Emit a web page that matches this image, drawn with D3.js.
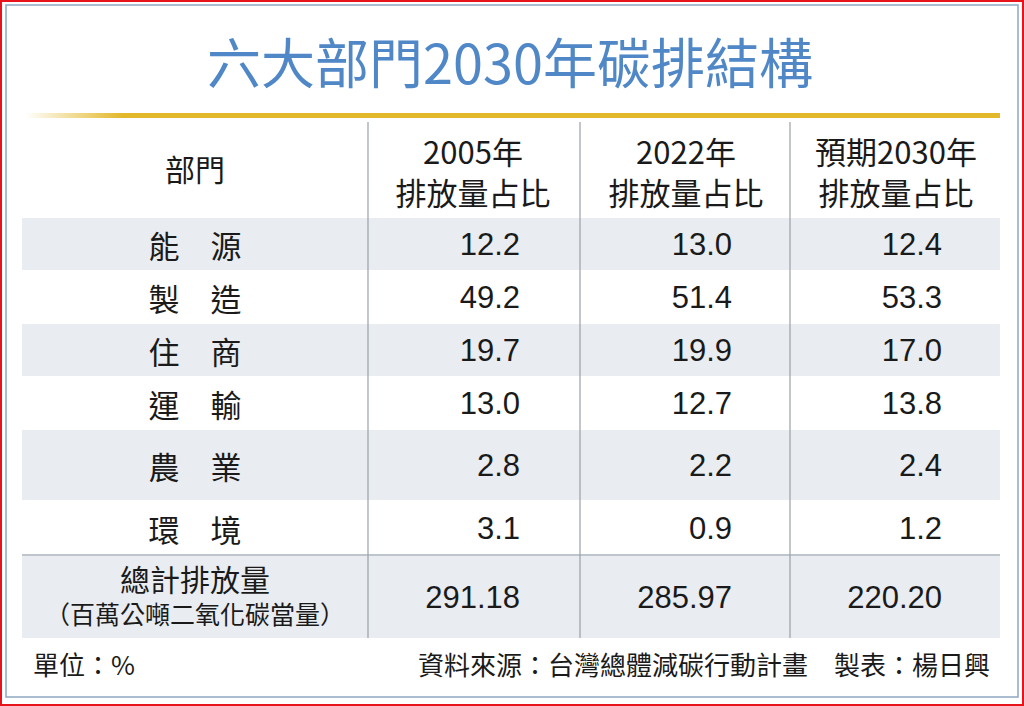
<!DOCTYPE html>
<html>
<head>
<meta charset="utf-8">
<script src="https://cdn.jsdelivr.net/npm/d3@7"></script>
<style>body{margin:0;background:#fff}</style>
</head>
<body>
<script>
const title = "六大部門2030年碳排結構";
const sectors = ["能　源", "製　造", "住　商", "運　輸", "農　業", "環　境"];
const v2005 = [12.2, 49.2, 19.7, 13.0, 2.8, 3.1];
const v2022 = [13.0, 51.4, 19.9, 12.7, 2.2, 0.9];
const v2030 = [12.4, 53.3, 17.0, 13.8, 2.4, 1.2];
const totals = ["291.18", "285.97", "220.20"];
const colHeads = [["2005年", "排放量占比"], ["2022年", "排放量占比"], ["預期2030年", "排放量占比"]];

const font = "'Noto Sans CJK TC', 'Liberation Sans', sans-serif";
const svg = d3.select("body").append("svg").attr("width", 1024).attr("height", 706);

svg.append("rect").attr("x", 1).attr("y", 1).attr("width", 1022).attr("height", 704)
  .attr("fill", "none").attr("stroke", "#e8141c").attr("stroke-width", 2);
svg.append("rect").attr("x", 6).attr("y", 5).attr("width", 1012).attr("height", 692)
  .attr("fill", "none").attr("stroke", "#8fa7c0").attr("stroke-width", 1.5);

svg.append("text").attr("x", 510).attr("y", 84).attr("text-anchor", "middle")
  .attr("font-family", font).attr("font-size", 54).attr("fill", "#4f87c7").text(title);

const grad = svg.append("defs").append("linearGradient").attr("id", "g");
grad.append("stop").attr("offset", "0").attr("stop-color", "#fff");
grad.append("stop").attr("offset", "0.1").attr("stop-color", "#e3b82a");
grad.append("stop").attr("offset", "1").attr("stop-color", "#e3b82a");
svg.append("rect").attr("x", 25).attr("y", 113).attr("width", 975).attr("height", 5).attr("fill", "url(#g)");

// row bands
const rowTop = [218, 272, 324, 378, 430, 502, 556];
const rowBot = [270, 322, 376, 428, 500, 554, 638];
const y = i => (rowTop[i] + rowBot[i]) / 2;
rowTop.forEach((t, i) => {
  if (i % 2 === 0) svg.append("rect").attr("x", 22).attr("y", t).attr("width", 978)
    .attr("height", rowBot[i] - t).attr("fill", "#e9ecf1");
});
svg.append("line").attr("x1", 22).attr("x2", 1000).attr("y1", 555).attr("y2", 555)
  .attr("stroke", "#aab2bc").attr("stroke-width", 1.5);

[368, 580, 790].forEach(vx => svg.append("line").attr("x1", vx).attr("x2", vx)
  .attr("y1", 122).attr("y2", 638).attr("stroke", "#9aa0a8").attr("stroke-width", 1.2));

const txt = (px, py, s, size, anchor) => svg.append("text").attr("x", px).attr("y", py)
  .attr("text-anchor", anchor || "middle").attr("dominant-baseline", "central")
  .attr("font-family", font).attr("font-size", size).attr("fill", "#1a1a1a").text(s);

txt(195, 168, "部門", 30);
colHeads.forEach((h, j) => {
  const cx = [473, 686, 896][j];
  txt(cx, 150, h[0], 31);
  txt(cx, 191, h[1], 31);
});

const numFont = "'Liberation Sans', Arial, sans-serif";
const rightX = [520, 732, 942];
[v2005, v2022, v2030].forEach((col, j) => {
  col.forEach((v, i) => txt(rightX[j], y(i), v.toFixed(1), 31, "end").attr("font-family", numFont));
  txt(rightX[j], y(6), totals[j], 31, "end").attr("font-family", numFont);
});
sectors.forEach((s, i) => txt(195, y(i), s, 31));
txt(195, 578, "總計排放量", 30);
txt(195, 613, "（百萬公噸二氧化碳當量）", 25);

txt(33, 663, "單位：%", 26, "start");
txt(990, 663, "資料來源：台灣總體減碳行動計畫　製表：楊日興", 26, "end");
</script>
</body>
</html>
